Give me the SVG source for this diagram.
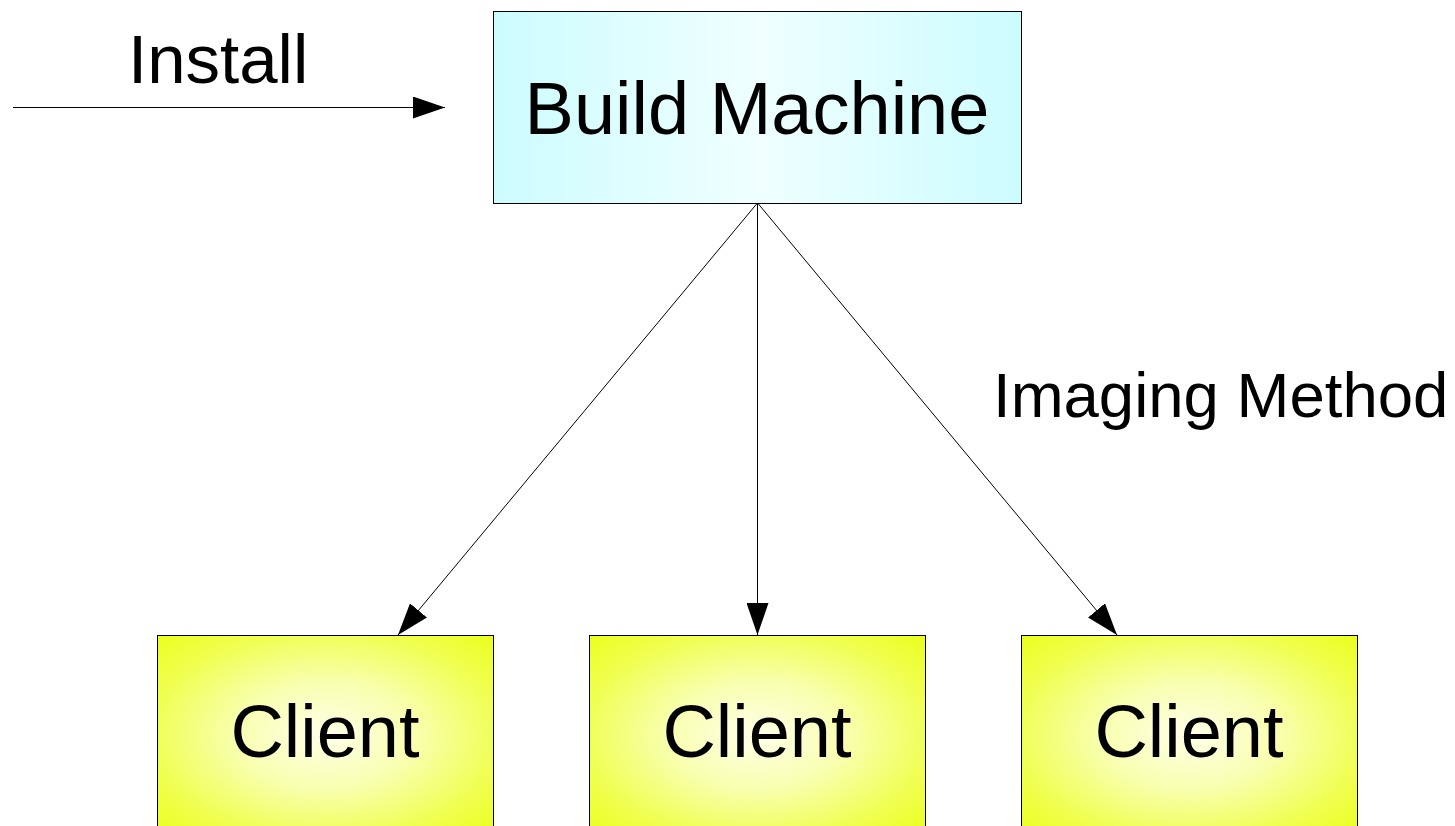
<svg xmlns="http://www.w3.org/2000/svg" width="1455" height="826" viewBox="0 0 1455 826">
<style>
  text { font-family: "Liberation Sans", Arial, sans-serif; fill: #000; }
  .big { font-size: 74px; text-anchor: middle; }
  .box { stroke: #000; stroke-width: 1; }
  .conn { stroke: #000; stroke-width: 1; fill: none; marker-end: url(#arrow); }
</style>
<defs>
  <linearGradient id="cyanGrad" x1="0" y1="0" x2="1" y2="0">
    <stop offset="0" stop-color="#ccfcff"/>
    <stop offset="0.5" stop-color="#f0ffff"/>
    <stop offset="1" stop-color="#ccfcff"/>
  </linearGradient>
  <radialGradient id="yellowGrad" cx="0.5" cy="0.5" r="0.75">
    <stop offset="0" stop-color="#ffffe8"/>
    <stop offset="0.35" stop-color="#f8ffb0"/>
    <stop offset="0.7" stop-color="#f0ff50"/>
    <stop offset="1" stop-color="#e8ff10"/>
  </radialGradient>
  <marker id="arrow" viewBox="0 0 32 22" refX="32" refY="11" markerWidth="32" markerHeight="22" markerUnits="userSpaceOnUse" orient="auto">
    <path d="M0,0 L32,11 L0,22 Z" fill="#000"/>
  </marker>
</defs>
<g id="build-machine">
  <rect class="box" x="493.5" y="11.5" width="528" height="192" fill="url(#cyanGrad)"/>
  <text class="big" x="757" y="134">Build Machine</text>
</g>
<g id="client-1">
  <rect class="box" x="157.5" y="635.5" width="336" height="200" fill="url(#yellowGrad)"/>
  <text class="big" x="325" y="757">Client</text>
</g>
<g id="client-2">
  <rect class="box" x="589.5" y="635.5" width="336" height="200" fill="url(#yellowGrad)"/>
  <text class="big" x="757" y="757">Client</text>
</g>
<g id="client-3">
  <rect class="box" x="1021.5" y="635.5" width="336" height="200" fill="url(#yellowGrad)"/>
  <text class="big" x="1189" y="757">Client</text>
</g>
<g id="connectors">
  <line class="conn" x1="13" y1="107.5" x2="445" y2="107.5"/>
  <line class="conn" x1="757" y1="203.5" x2="398" y2="635"/>
  <line class="conn" x1="757.5" y1="203.5" x2="757.5" y2="635"/>
  <line class="conn" x1="758" y1="203.5" x2="1117" y2="635"/>
</g>
<g id="labels">
  <text x="128" y="83" style="font-size:69px">Install</text>
  <text x="993" y="417" style="font-size:63.5px">Imaging Method</text>
</g>
</svg>
